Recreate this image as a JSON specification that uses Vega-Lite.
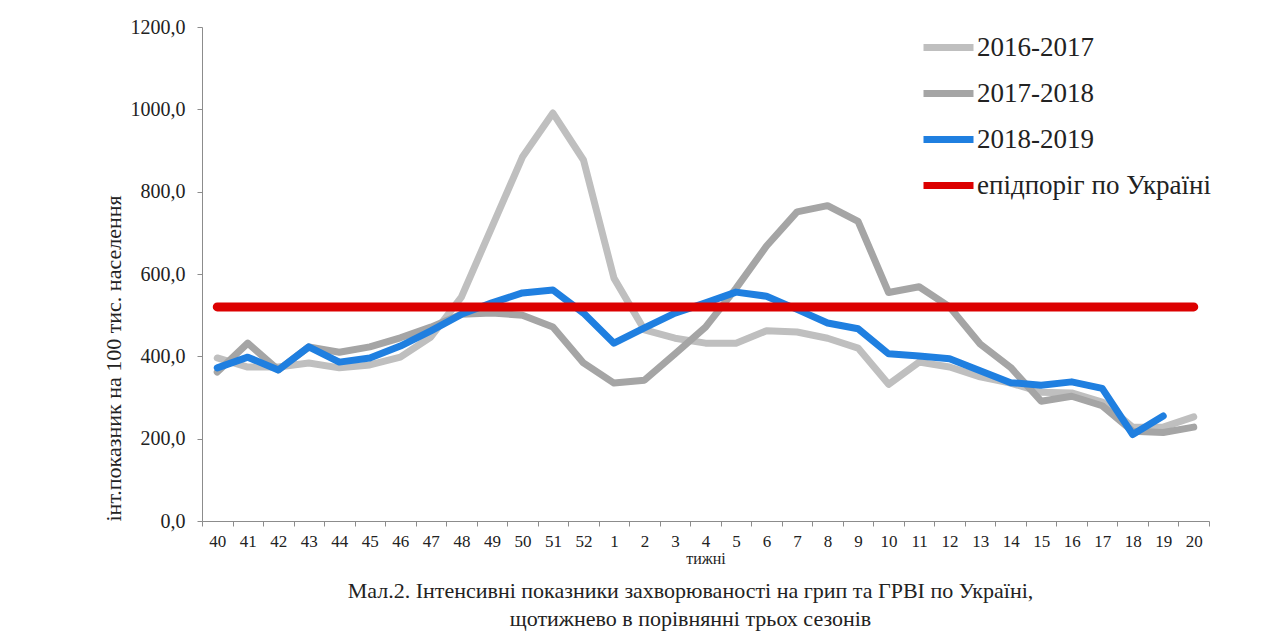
{
  "$schema": "https://vega.github.io/schema/vega-lite/v6.json",
  "width": 1007,
  "height": 494,
  "autosize": {"type": "none"},
  "padding": {"left": 202, "top": 27, "right": 79, "bottom": 118},
  "background": "white",
  "config": {"view": {"stroke": null}, "font": "Liberation Serif"},
  "title": {
    "text": ["Мал.2. Інтенсивні показники захворюваності на грип та ГРВІ по Україні,", "щотижнево в порівнянні трьох сезонів"],
    "orient": "bottom",
    "anchor": "middle",
    "font": "Liberation Serif",
    "fontSize": 22,
    "fontWeight": "normal",
    "color": "#222222",
    "offset": 15,
    "lineHeight": 28,
    "dx": -15
  },
  "datasets": {
    "seasons": [
      {"week": "40", "series": "2016-2017", "value": 396},
      {"week": "41", "series": "2016-2017", "value": 374},
      {"week": "42", "series": "2016-2017", "value": 374},
      {"week": "43", "series": "2016-2017", "value": 384},
      {"week": "44", "series": "2016-2017", "value": 372},
      {"week": "45", "series": "2016-2017", "value": 379},
      {"week": "46", "series": "2016-2017", "value": 398},
      {"week": "47", "series": "2016-2017", "value": 447},
      {"week": "48", "series": "2016-2017", "value": 544},
      {"week": "49", "series": "2016-2017", "value": 714},
      {"week": "50", "series": "2016-2017", "value": 884},
      {"week": "51", "series": "2016-2017", "value": 991},
      {"week": "52", "series": "2016-2017", "value": 877},
      {"week": "1", "series": "2016-2017", "value": 590},
      {"week": "2", "series": "2016-2017", "value": 464},
      {"week": "3", "series": "2016-2017", "value": 444},
      {"week": "4", "series": "2016-2017", "value": 432},
      {"week": "5", "series": "2016-2017", "value": 432},
      {"week": "6", "series": "2016-2017", "value": 462},
      {"week": "7", "series": "2016-2017", "value": 459},
      {"week": "8", "series": "2016-2017", "value": 444},
      {"week": "9", "series": "2016-2017", "value": 420},
      {"week": "10", "series": "2016-2017", "value": 332},
      {"week": "11", "series": "2016-2017", "value": 386},
      {"week": "12", "series": "2016-2017", "value": 374},
      {"week": "13", "series": "2016-2017", "value": 350},
      {"week": "14", "series": "2016-2017", "value": 335},
      {"week": "15", "series": "2016-2017", "value": 313},
      {"week": "16", "series": "2016-2017", "value": 311},
      {"week": "17", "series": "2016-2017", "value": 289},
      {"week": "18", "series": "2016-2017", "value": 228},
      {"week": "19", "series": "2016-2017", "value": 228},
      {"week": "20", "series": "2016-2017", "value": 253},
      {"week": "40", "series": "2017-2018", "value": 362},
      {"week": "41", "series": "2017-2018", "value": 432},
      {"week": "42", "series": "2017-2018", "value": 367},
      {"week": "43", "series": "2017-2018", "value": 423},
      {"week": "44", "series": "2017-2018", "value": 410},
      {"week": "45", "series": "2017-2018", "value": 423},
      {"week": "46", "series": "2017-2018", "value": 445},
      {"week": "47", "series": "2017-2018", "value": 471},
      {"week": "48", "series": "2017-2018", "value": 502},
      {"week": "49", "series": "2017-2018", "value": 505},
      {"week": "50", "series": "2017-2018", "value": 500},
      {"week": "51", "series": "2017-2018", "value": 471},
      {"week": "52", "series": "2017-2018", "value": 384},
      {"week": "1", "series": "2017-2018", "value": 335},
      {"week": "2", "series": "2017-2018", "value": 342},
      {"week": "3", "series": "2017-2018", "value": 406},
      {"week": "4", "series": "2017-2018", "value": 471},
      {"week": "5", "series": "2017-2018", "value": 565},
      {"week": "6", "series": "2017-2018", "value": 668},
      {"week": "7", "series": "2017-2018", "value": 751},
      {"week": "8", "series": "2017-2018", "value": 766},
      {"week": "9", "series": "2017-2018", "value": 728},
      {"week": "10", "series": "2017-2018", "value": 555},
      {"week": "11", "series": "2017-2018", "value": 569},
      {"week": "12", "series": "2017-2018", "value": 520},
      {"week": "13", "series": "2017-2018", "value": 430},
      {"week": "14", "series": "2017-2018", "value": 373},
      {"week": "15", "series": "2017-2018", "value": 291},
      {"week": "16", "series": "2017-2018", "value": 303},
      {"week": "17", "series": "2017-2018", "value": 280},
      {"week": "18", "series": "2017-2018", "value": 218},
      {"week": "19", "series": "2017-2018", "value": 215},
      {"week": "20", "series": "2017-2018", "value": 228},
      {"week": "40", "series": "2018-2019", "value": 372},
      {"week": "41", "series": "2018-2019", "value": 398},
      {"week": "42", "series": "2018-2019", "value": 367},
      {"week": "43", "series": "2018-2019", "value": 423},
      {"week": "44", "series": "2018-2019", "value": 386},
      {"week": "45", "series": "2018-2019", "value": 396},
      {"week": "46", "series": "2018-2019", "value": 425},
      {"week": "47", "series": "2018-2019", "value": 462},
      {"week": "48", "series": "2018-2019", "value": 502},
      {"week": "49", "series": "2018-2019", "value": 530},
      {"week": "50", "series": "2018-2019", "value": 554},
      {"week": "51", "series": "2018-2019", "value": 561},
      {"week": "52", "series": "2018-2019", "value": 505},
      {"week": "1", "series": "2018-2019", "value": 432},
      {"week": "2", "series": "2018-2019", "value": 469},
      {"week": "3", "series": "2018-2019", "value": 505},
      {"week": "4", "series": "2018-2019", "value": 530},
      {"week": "5", "series": "2018-2019", "value": 556},
      {"week": "6", "series": "2018-2019", "value": 546},
      {"week": "7", "series": "2018-2019", "value": 514},
      {"week": "8", "series": "2018-2019", "value": 481},
      {"week": "9", "series": "2018-2019", "value": 467},
      {"week": "10", "series": "2018-2019", "value": 406},
      {"week": "11", "series": "2018-2019", "value": 401},
      {"week": "12", "series": "2018-2019", "value": 394},
      {"week": "13", "series": "2018-2019", "value": 365},
      {"week": "14", "series": "2018-2019", "value": 336},
      {"week": "15", "series": "2018-2019", "value": 330},
      {"week": "16", "series": "2018-2019", "value": 338},
      {"week": "17", "series": "2018-2019", "value": 322},
      {"week": "18", "series": "2018-2019", "value": 210},
      {"week": "19", "series": "2018-2019", "value": 255}
    ],
    "threshold": [
      {"week": "40", "series": "епідпоріг по Україні", "value": 520},
      {"week": "20", "series": "епідпоріг по Україні", "value": 520}
    ]
  },
  "encoding": {
    "x": {
      "field": "week",
      "type": "ordinal",
      "bandPosition": 0.5,
      "scale": {
        "type": "band",
        "domain": ["40","41","42","43","44","45","46","47","48","49","50","51","52","1","2","3","4","5","6","7","8","9","10","11","12","13","14","15","16","17","18","19","20"],
        "paddingInner": 0,
        "paddingOuter": 0
      },
      "axis": {
        "title": "тижні",
        "labelAngle": 0,
        "tickBand": "extent",
        "tickSize": 5,
        "domainColor": "#8c8c8c",
        "tickColor": "#8c8c8c",
        "labelFont": "Liberation Serif",
        "labelFontSize": 17,
        "labelColor": "#222222",
        "labelPadding": 7,
        "titleFont": "Liberation Serif",
        "titleFontSize": 16,
        "titleFontWeight": "normal",
        "titleColor": "#222222",
        "titlePadding": 1
      }
    },
    "y": {
      "field": "value",
      "type": "quantitative",
      "scale": {"domain": [0, 1200]},
      "axis": {
        "title": "інт.показник на 100 тис. населення",
        "titleAnchor": "start",
        "values": [0, 200, 400, 600, 800, 1000, 1200],
        "labelExpr": "replace(format(datum.value, '.1f'), '.', ',')",
        "grid": false,
        "tickSize": 5,
        "domainColor": "#8c8c8c",
        "tickColor": "#8c8c8c",
        "labelFont": "Liberation Serif",
        "labelFontSize": 20,
        "labelColor": "#222222",
        "labelPadding": 12,
        "titleFont": "Liberation Serif",
        "titleFontSize": 22,
        "titleFontWeight": "normal",
        "titleColor": "#222222",
        "titlePadding": 5
      }
    },
    "color": {
      "field": "series",
      "type": "nominal",
      "scale": {
        "domain": ["2016-2017", "2017-2018", "2018-2019", "епідпоріг по Україні"],
        "range": ["#bfbfbf", "#a5a5a5", "#1f7fe0", "#dc0000"]
      },
      "legend": {
        "orient": "none",
        "legendX": 718,
        "legendY": -8,
        "title": null,
        "symbolType": "stroke",
        "symbolStrokeWidth": 7,
        "symbolSize": 2500,
        "labelFont": "Liberation Serif",
        "labelFontSize": 27,
        "labelColor": "#222222",
        "labelOffset": 0,
        "labelLimit": 0,
        "rowPadding": 3
      }
    }
  },
  "layer": [
    {
      "data": {"name": "seasons"},
      "mark": {"type": "line", "strokeWidth": 7, "strokeCap": "round", "strokeJoin": "round"}
    },
    {
      "data": {"name": "threshold"},
      "mark": {"type": "line", "strokeWidth": 9, "strokeCap": "round"}
    }
  ]
}
